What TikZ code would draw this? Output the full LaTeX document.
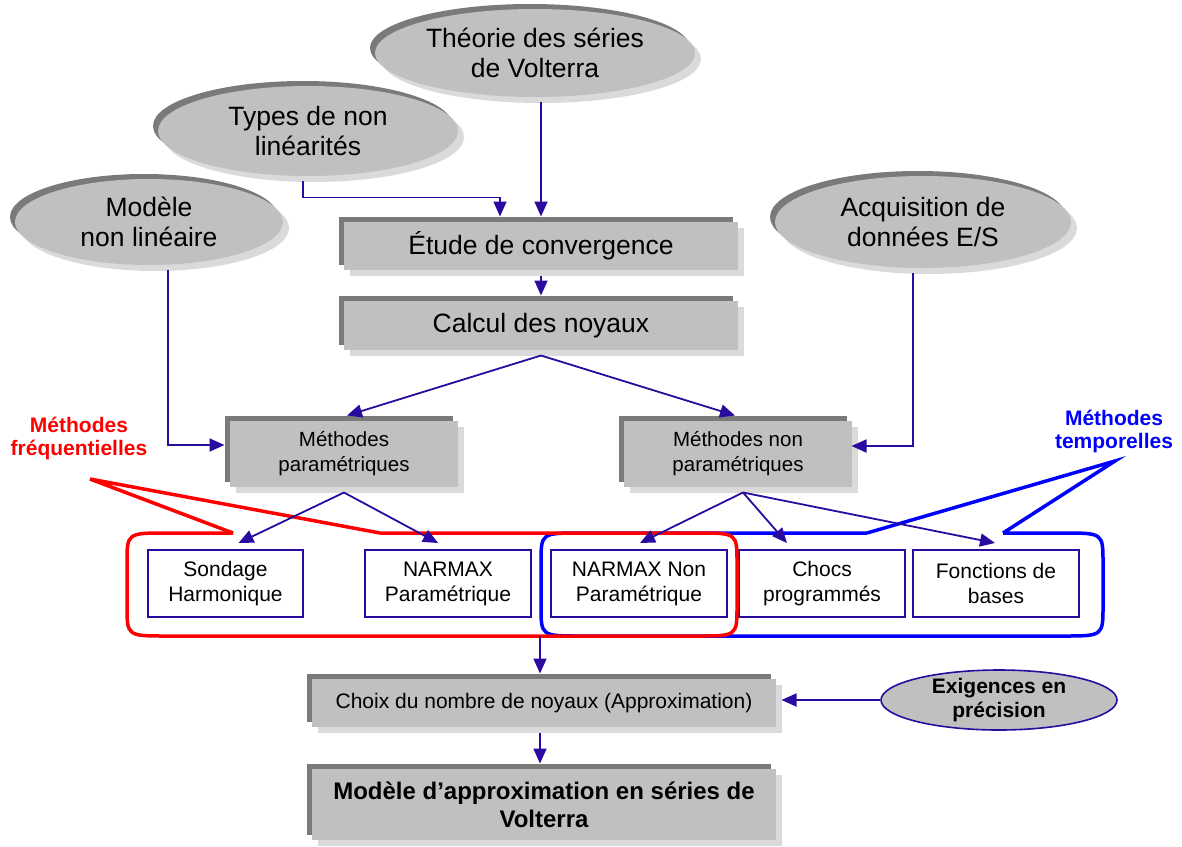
\documentclass[tikz,border=0pt]{standalone}
\usepackage{fontspec}
\setmainfont{Liberation Sans}
\usetikzlibrary{arrows.meta,shadows,shapes.geometric,calc}
\definecolor{boxgray}{HTML}{C0C0C0}
\definecolor{darksh}{HTML}{7A7A7A}
\definecolor{lightsh}{HTML}{DADADA}
\definecolor{arrowc}{HTML}{2B0A9F}
\definecolor{calred}{HTML}{FF0000}
\definecolor{calblue}{HTML}{0000FF}
\tikzset{
  shad/.style={general shadow={fill=lightsh, shadow xshift=6pt, shadow yshift=-6pt},
               general shadow={fill=darksh, shadow xshift=-5pt, shadow yshift=5pt}},
  gbox/.style={rectangle, fill=boxgray, shad, inner sep=0pt, outer sep=5.5pt, align=center},
  gell/.style={ellipse, fill=boxgray, shad, inner sep=0pt, outer sep=5pt, align=center,
               font=\fontsize{26.5}{30}\selectfont},
  bigtxt/.style={font=\fontsize{26.5}{30}\selectfont},
  midtxt/.style={font=\fontsize{20.5}{25}\selectfont},
  wbox/.style={rectangle, draw=arrowc, line width=2pt, fill=white, inner sep=0pt,
               align=center, minimum height=67pt, font=\fontsize{21}{25}\selectfont},
  arr/.style={draw=arrowc, line width=1.8pt, -{Triangle[length=15pt,width=13pt]}},
  redline/.style={draw=calred, line width=3.5pt},
  blueline/.style={draw=calblue, line width=3.5pt},
  lbl/.style={align=center, font=\bfseries\fontsize{21}{23}\selectfont}
}
\begin{document}
\begin{tikzpicture}[x=1pt,y=-1pt]
\useasboundingbox (0,0) rectangle (1182,846);

% ellipses
\node[gell, minimum width=320pt, minimum height=88pt] (theorie) at (535,53) {Théorie des séries\\de Volterra};
\node[gell, minimum width=300pt, minimum height=90pt] (types) at (308,131) {Types de non\\linéarités};
\node[gell, minimum width=268pt, minimum height=86pt] (modele) at (149,222) {Modèle\\non linéaire};
\node[gell, minimum width=296pt, minimum height=92pt] (acq) at (923,222) {Acquisition de\\données E/S};

% gray boxes
\node[gbox, bigtxt, minimum width=394pt, minimum height=48pt] (etude) at (541,246) {Étude de convergence};
\node[gbox, bigtxt, minimum width=394pt, minimum height=49pt] (calcul) at (541,325.5) {Calcul des noyaux};
\node[gbox, midtxt, minimum width=228pt, minimum height=66pt] (param) at (344,454) {Méthodes\\paramétriques};
\node[gbox, midtxt, minimum width=228pt, minimum height=66pt] (nonparam) at (738,454) {Méthodes non\\paramétriques};
\node[gbox, font=\fontsize{21}{25}\selectfont, minimum width=464pt, minimum height=48pt] (choix) at (544,703) {Choix du nombre de noyaux (Approximation)};
\node[gbox, font=\bfseries\fontsize{24}{28}\selectfont, minimum width=464pt, minimum height=71pt] (modapprox) at (544,804.5) {Modèle d’approximation en séries de\\Volterra};

% white boxes
\node[wbox, minimum width=155pt] (sondage) at (225.5,583.5) {Sondage\\Harmonique};
\node[wbox, minimum width=166pt] (narmaxp) at (448,583.5) {NARMAX\\Paramétrique};
\node[wbox, minimum width=176pt] (narmaxnp) at (639,583.5) {NARMAX Non\\Paramétrique};
\node[wbox, minimum width=166pt] (chocs) at (822,583.5) {Chocs\\programmés};
\node[wbox, minimum width=166pt] (fonctions) at (996,583.5) {Fonctions de\\bases};

% requirement ellipse
\node[ellipse, draw=arrowc, line width=1.6pt, fill=boxgray, inner sep=-4pt, minimum width=236pt, minimum height=60pt,
      align=center, font=\bfseries\fontsize{21}{24}\selectfont] (exig) at (999,700) {Exigences en\\précision};

% labels
\node[lbl, text=calred] (freq) at (79,438) {Méthodes\\fréquentielles};
\node[lbl, text=calblue] (temp) at (1114,431) {Méthodes\\temporelles};

% blue callout
\draw[blueline] (867,533) -- (581,533) .. controls (541,533) .. (541,563) -- (541,606)
  .. controls (541,636) .. (581,636) -- (1063,636) .. controls (1103,636) .. (1103,606)
  -- (1103,563) .. controls (1103,533) .. (1063,533) -- (1003,533);
\draw[blueline, line join=miter] (867,533) -- (1115,461) -- (1003,533);

% red callout
\draw[redline] (233,533) -- (167,533) .. controls (127,533) .. (127,563) -- (127,606)
  .. controls (127,636) .. (167,636) -- (697,636) .. controls (737,636) .. (737,606)
  -- (737,563) .. controls (737,533) .. (697,533) -- (380,533);
\draw[redline, line join=miter] (233,533) -- (90,479) -- (380,533);

\coordinate (groupbot) at (540,636);

% connectors
\draw[arr] (etude.north |- theorie.south) -- (etude.north);
\draw[arr] ([xshift=-5pt]types.south) |- ([xshift=-41pt,yshift=19pt]etude.north) -- ([xshift=-41pt]etude.north);
\draw[arr] (etude.south) -- (calcul.north);
\draw[arr] (calcul.south) -- ([xshift=3pt]param.north);
\draw[arr] (calcul.south) -- ([xshift=-3pt]nonparam.north);
\draw[arr] ([xshift=19pt]modele.south) |- ([yshift=9pt]param.west);
\draw[arr] ([xshift=-10pt]acq.south) |- ([xshift=-6pt,yshift=8pt]nonparam.east);
\draw[arr] (param.south) -- ([xshift=13pt,yshift=6pt]sondage.north);
\draw[arr] (param.south) -- ([xshift=-10pt,yshift=6pt]narmaxp.north);
\draw[arr] ([xshift=5pt]nonparam.south) -- ([xshift=1pt,yshift=6pt]narmaxnp.north);
\draw[arr] ([xshift=5pt]nonparam.south) -- ([xshift=-35pt,yshift=6pt]chocs.north);
\draw[arr] ([xshift=5pt]nonparam.south) -- ([xshift=-1pt,yshift=6pt]fonctions.north);
\draw[arr] (groupbot) -- (groupbot |- choix.north);
\draw[arr] (choix.south -| groupbot) -- (modapprox.north -| groupbot);
\draw[arr] (exig.west) -- (choix.east |- exig.west);
\end{tikzpicture}
\end{document}
